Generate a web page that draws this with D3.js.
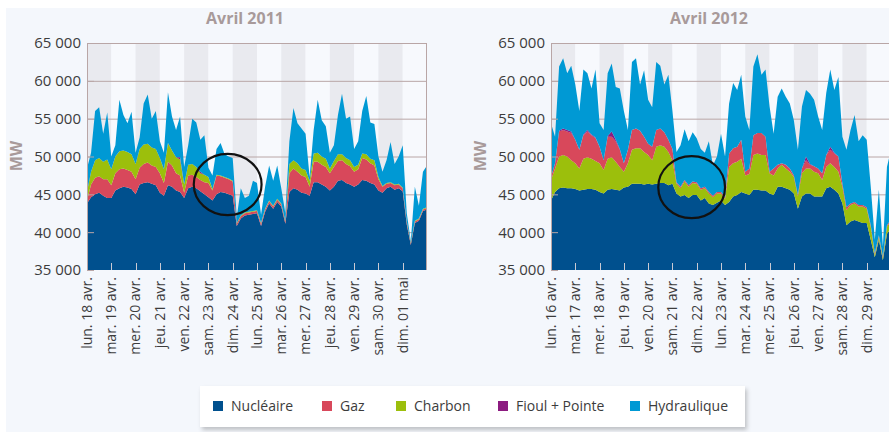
<!DOCTYPE html>
<html>
<head>
<meta charset="utf-8">
<script src="https://cdn.jsdelivr.net/npm/d3@7"></script>
<style>
  html, body { margin: 0; padding: 0; background: #fff; }
  svg { display: block; font-family: "Open Sans", sans-serif; }
</style>
</head>
<body>
<div id="chart"></div>
<script>
// samples every 4 hours, 14 days (85 points), values in MW

var series = ["Nucléaire", "Gaz", "Charbon", "Fioul + Pointe", "Hydraulique"];
var colors = ["#00508e", "#d8485b", "#9cbf0c", "#8c1b80", "#0099d4"];

var yTicks = [35000, 40000, 45000, 50000, 55000, 60000, 65000];

var days2011 = ["lun. 18 avr.", "mar. 19 avr.", "mer. 20 avr.", "jeu. 21 avr.", "ven. 22 avr.", "sam. 23 avr.", "dim. 24 avr.",
  "lun. 25 avr.", "mar. 26 avr.", "mer. 27 avr.", "jeu. 28 avr.", "ven. 29 avr.", "sam. 30 avr.", "dim. 01 mai"];
var days2012 = ["lun. 16 avr.", "mar. 17 avr.", "mer. 18 avr.", "jeu. 19 avr.", "ven. 20 avr.", "sam. 21 avr.", "dim. 22 avr.",
  "lun. 23 avr.", "mar. 24 avr.", "mer. 25 avr.", "jeu. 26 avr.", "ven. 27 avr.", "sam. 28 avr.", "dim. 29 avr."];

// highlighted weekend: [centre hour, centre MW, half width in hours, half height in MW]
var circle2011 = [139, 46300, 33.5, 4050];
var circle2012 = [139, 45950, 33, 4100];

// ---- avril 2011
var nuc2011 = [
  43800, 44600, 45000, 45200, 44800, 44500,
  44500, 45500, 45800, 46000, 45900, 45700,
  45000, 46300, 46500, 46600, 46400, 46200,
  45200, 44800, 46200, 46000, 45500, 45300,
  44500, 45800, 46000, 45800, 45400, 45000,
  44600, 44200, 45000, 45300, 45200, 45000,
  44800, 40800, 41800, 42200, 42300, 42400,
  42500, 40800, 42700, 43800, 43100, 44000,
  43400, 41100, 45300, 45800, 45600, 45200,
  45100, 44800, 46600, 46600, 46300, 46000,
  45500, 46000, 46800, 46900, 46500, 46300,
  46000, 46300, 46900, 46800, 46500, 46300,
  45500, 45200, 45800, 46000, 45600, 45800,
  45400, 41000, 38300, 41200, 41500, 42800, 43000];
var gaz2011 = [
  400, 1700, 2200, 2200, 2200, 2500,
  1700, 2300, 2500, 2400, 2300, 2300,
  2000, 2200, 2500, 2600, 2400, 2400,
  2600, 1700, 3100, 2800, 2300, 2200,
  700, 1700, 1600, 1500, 1500, 1600,
  1900, 1300, 2500, 2100, 2000, 2000,
  1900, 300, 300, 300, 300, 300,
  300, 300, 300, 300, 300, 300,
  300, 300, 2500, 2600, 2400, 2300,
  2200, 1200, 2700, 2700, 2600, 2600,
  2300, 2600, 2600, 2600, 2500, 2400,
  2000, 2000, 2900, 2800, 2600, 2500,
  1500, 800, 600, 500, 600, 500,
  400, 300, 200, 200, 200, 200, 200];
var charbon2011 = [
  1100, 1700, 2300, 2400, 2300, 2600,
  2100, 2200, 2400, 2400, 2400, 2300,
  2000, 2500, 2600, 2500, 2400, 2400,
  2000, 1800, 2500, 2000, 2100, 2100,
  1100, 1400, 1400, 1300, 900, 1000,
  800, 200, 100, 100, 100, 100,
  100, 100, 100, 100, 100, 100,
  100, 100, 100, 100, 100, 100,
  100, 100, 1200, 1100, 1100, 900,
  900, 800, 1100, 1200, 1100, 1100,
  600, 800, 900, 800, 800, 800,
  600, 600, 600, 700, 600, 700,
  300, 100, 100, 100, 100, 100,
  100, 100, 100, 100, 100, 100, 100];
var fioul2011 = [
  0, 0, 0, 0, 0, 0,
  0, 0, 0, 0, 0, 0,
  0, 0, 0, 0, 0, 0,
  0, 0, 0, 0, 0, 300,
  0, 0, 0, 0, 200, 0,
  0, 0, 0, 0, 0, 0,
  0, 0, 0, 0, 0, 0,
  0, 0, 0, 0, 0, 0,
  0, 0, 0, 0, 0, 0,
  0, 0, 0, 0, 0, 0,
  0, 0, 0, 0, 0, 0,
  0, 0, 0, 0, 0, 0,
  0, 0, 0, 0, 0, 0,
  0, 0, 0, 0, 0, 0, 0];
var hydro2011 = [
  3100, 2500, 6500, 6700, 3700, 6200,
  1700, 1500, 6800, 4700, 3800, 5600,
  1500, 1500, 5400, 6500, 3800, 5000,
  2200, 2200, 6700, 4500, 3600, 5400,
  2300, 2600, 6000, 5900, 4200, 5200,
  1200, 1800, 3400, 4300, 3000, 2900,
  3000, 800, 3600, 1900, 2100, 4000,
  3600, 1100, 2900, 4600, 3300, 4400,
  2000, 1000, 3000, 6900, 5300, 5300,
  4800, 500, 3100, 7000, 4800, 4300,
  2100, 2100, 5200, 8000, 5200, 5800,
  2400, 3100, 5600, 7700, 4800, 4800,
  2700, 1900, 3000, 5300, 2700, 3600,
  5600, 1100, 200, 4500, 1700, 4900, 5500];

// ---- avril 2012
var nuc2012 = [
  44200, 45300, 45800, 45900, 45800, 45800,
  45700, 45500, 45600, 45700, 45700, 45600,
  45300, 45100, 45600, 45700, 45600, 45500,
  45900, 46000, 46400, 46400, 46400, 46300,
  46400, 46300, 46400, 46500, 46500, 46200,
  46400, 45100, 44700, 44900, 44500, 44900,
  44900, 44200, 44500, 43800, 43600, 43900,
  44200, 43600, 44000, 44700, 44900, 45300,
  45100, 44900, 45600, 45600, 45500, 45500,
  45100, 44900, 46000, 46000, 45800, 45600,
  45100, 43100, 44700, 45100, 45100, 44700,
  44700, 44700, 45800, 46000, 45600, 45100,
  43800, 40900, 41400, 41600, 41400, 41200,
  41200, 39000, 36700, 39000, 36300, 39800, 40500];
var charbon2012 = [
  2700, 3100, 4200, 4300, 4200, 3700,
  3400, 2900, 4100, 4200, 4000, 3800,
  3800, 3100, 4100, 4200, 3700, 3100,
  2100, 3100, 4500, 4700, 4700, 4300,
  3800, 3200, 4900, 5000, 4800, 4400,
  3100, 1300, 1100, 1800, 1500, 1600,
  1500, 1400, 1300, 1300, 1000, 1200,
  900, 800, 4600, 4400, 4400, 4400,
  2400, 2800, 4600, 4800, 4700, 4700,
  2700, 2600, 2400, 2900, 2600, 2400,
  2200, 1600, 3100, 3300, 3300, 3300,
  3100, 2200, 2800, 3100, 3000, 2900,
  2200, 2000, 2200, 2200, 2000, 2200,
  1900, 1700, 300, 400, 300, 900, 1000];
var gaz2012 = [
  400, 700, 3300, 3300, 3300, 3600,
  3100, 2500, 3100, 3400, 3100, 3000,
  2200, 1300, 2900, 2700, 2700, 2300,
  1100, 1800, 2600, 2600, 2300, 2000,
  1500, 1800, 2200, 2200, 1900, 1600,
  1500, 200, 200, 200, 200, 200,
  200, 200, 200, 200, 200, 200,
  200, 200, 1800, 2000, 2000, 2500,
  500, 700, 2600, 2700, 2900, 2400,
  200, 900, 500, 200, 500, 400,
  200, 200, 600, 1100, 500, 700,
  600, 900, 1600, 1800, 1800, 2000,
  400, 400, 200, 200, 200, 200,
  200, 200, 200, 200, 200, 200, 200];
var fioul2012 = [
  0, 0, 100, 200, 200, 200,
  0, 0, 100, 200, 100, 100,
  0, 0, 100, 700, 200, 100,
  0, 0, 0, 0, 0, 0,
  0, 0, 0, 0, 0, 0,
  0, 0, 0, 0, 0, 0,
  0, 0, 0, 0, 0, 0,
  0, 0, 0, 0, 0, 0,
  0, 0, 0, 0, 0, 0,
  0, 0, 0, 0, 0, 0,
  0, 0, 0, 500, 100, 0,
  0, 0, 0, 400, 100, 0,
  0, 0, 0, 0, 0, 0,
  0, 0, 0, 0, 0, 0, 0];
var hydro2012 = [
  7100, 3500, 8500, 9300, 7500, 8700,
  7300, 5100, 8600, 7500, 6100, 9000,
  3100, 4000, 8300, 9000, 7000, 8000,
  6900, 2600, 9000, 9300, 6100, 8800,
  5800, 5200, 9000, 8300, 6300, 8600,
  5000, 4000, 5500, 6700, 5800, 6500,
  5800, 5200, 4500, 6700, 4000, 4700,
  7700, 5400, 6600, 8600, 7500, 8600,
  7300, 5100, 9100, 10400, 7700, 8900,
  8600, 4600, 9000, 9900, 9000, 8600,
  7300, 6000, 8200, 8800, 9300, 8800,
  6900, 5700, 8200, 10200, 8300, 10500,
  6200, 7600, 9700, 11500, 8400, 9200,
  8900, 5100, 1800, 6000, 1300, 7700, 9200];

var W = 889, H = 432;
var yTop = 43, yBottom = 270, plotW = 340;
var labelColor = "#a89a9a", gridColor = "#b9a6a6", textColor = "#3c3c3c";

var svg = d3.select("#chart").append("svg")
  .attr("width", W)
  .attr("height", H);

var defs = svg.append("defs");
var shadow = defs.append("filter").attr("id", "shadow")
  .attr("x", "-5%").attr("y", "-20%").attr("width", "115%").attr("height", "160%");
shadow.append("feDropShadow")
  .attr("dx", 2).attr("dy", 3).attr("stdDeviation", 2)
  .attr("flood-color", "#000").attr("flood-opacity", 0.22);

svg.append("rect").attr("x", 0).attr("y", 0).attr("width", W).attr("height", H).attr("fill", "#fff");
svg.append("rect").attr("x", 6).attr("y", 8).attr("width", W - 6).attr("height", H - 8).attr("fill", "#f4f7fc");

var fmt = d3.formatLocale({ decimal: ",", thousands: " ", grouping: [3], currency: ["", ""] }).format(",d");

function drawPanel(opts) {
  var x0 = opts.x0;
  var nbDays = opts.days.length;
  var x = d3.scaleLinear().domain([0, nbDays * 24]).range([x0, x0 + plotW]);
  var y = d3.scaleLinear().domain([35000, 65000]).range([yBottom, yTop]).clamp(true);

  var rows = opts.values[0].map(function (v, i) {
    var r = { h: i * 4 };
    series.forEach(function (s, k) { r[s] = opts.values[k][i]; });
    return r;
  });

  var g = svg.append("g");

  // day bands
  g.selectAll(".band").data(d3.range(nbDays)).enter().append("rect")
    .attr("x", function (d) { return x(d * 24); })
    .attr("y", yTop)
    .attr("width", function (d) { return x((d + 1) * 24) - x(d * 24); })
    .attr("height", yBottom - yTop)
    .attr("fill", function (d) { return d % 2 === 0 ? "#e9eaef" : "#f7f9fd"; });

  // grid
  g.selectAll(".grid").data(yTicks.slice(1)).enter().append("line")
    .attr("x1", x0).attr("x2", x0 + plotW)
    .attr("y1", function (d) { return y(d) + 0.5; })
    .attr("y2", function (d) { return y(d) + 0.5; })
    .attr("stroke", gridColor);

  // stacked areas
  var stack = d3.stack().keys(opts.order);
  var area = d3.area()
    .x(function (d) { return x(d.data.h); })
    .y0(function (d) { return y(d[0]); })
    .y1(function (d) { return y(d[1]); });
  g.selectAll(".layer").data(stack(rows)).enter().append("path")
    .attr("d", area)
    .attr("fill", function (d) { return colors[series.indexOf(d.key)]; });

  // frame
  g.append("line").attr("x1", x0 + 0.5).attr("x2", x0 + 0.5).attr("y1", yTop).attr("y2", yBottom)
    .attr("stroke", gridColor);
  g.append("line").attr("x1", x0 + plotW - 0.5).attr("x2", x0 + plotW - 0.5).attr("y1", yTop).attr("y2", yBottom)
    .attr("stroke", gridColor);

  // inner ticks
  g.selectAll(".ytick").data(yTicks).enter().append("line")
    .attr("x1", x0).attr("x2", x0 + 7)
    .attr("y1", function (d) { return y(d) + 0.5; })
    .attr("y2", function (d) { return y(d) + 0.5; })
    .attr("stroke", gridColor);
  g.selectAll(".xtick").data(d3.range(1, nbDays)).enter().append("line")
    .attr("x1", function (d) { return Math.round(x(d * 24)) + 0.5; })
    .attr("x2", function (d) { return Math.round(x(d * 24)) + 0.5; })
    .attr("y1", yBottom - 7).attr("y2", yBottom)
    .attr("stroke", "#c9cad3");

  // highlighted weekend
  var c = opts.circle;
  g.append("ellipse")
    .attr("cx", x(c[0]))
    .attr("cy", y(c[1]))
    .attr("rx", x(c[0] + c[2]) - x(c[0]))
    .attr("ry", y(c[1] - c[3]) - y(c[1]))
    .attr("fill", "none")
    .attr("stroke", "#111")
    .attr("stroke-width", 2.2);

  // y labels
  g.selectAll(".ylab").data(yTicks).enter().append("text")
    .attr("x", x0 - 6)
    .attr("y", function (d) { return y(d); })
    .attr("dy", "0.36em")
    .attr("text-anchor", "end")
    .attr("font-size", 15)
    .attr("fill", textColor)
    .text(fmt);

  // x labels
  g.selectAll(".xlab").data(opts.days).enter().append("text")
    .attr("transform", function (d, i) { return "translate(" + x(i * 24) + "," + (yBottom + 7) + ") rotate(-90)"; })
    .attr("dy", "0.35em")
    .attr("text-anchor", "end")
    .attr("font-size", 14)
    .attr("fill", textColor)
    .text(function (d) { return d; });

  // titles
  g.append("text")
    .attr("x", x0 + plotW / 2 - 12)
    .attr("y", 24)
    .attr("text-anchor", "middle")
    .attr("font-size", 16)
    .attr("font-weight", "bold")
    .attr("fill", labelColor)
    .text(opts.title);
  g.append("text")
    .attr("transform", "translate(" + (x0 - 65) + "," + (yTop + 113) + ") rotate(-90)")
    .attr("text-anchor", "middle")
    .attr("font-size", 16)
    .attr("font-weight", "bold")
    .attr("fill", labelColor)
    .text("MW");
}

drawPanel({
  x0: 87, title: "Avril 2011", days: days2011, circle: circle2011,
  order: ["Nucléaire", "Gaz", "Charbon", "Fioul + Pointe", "Hydraulique"],
  values: [nuc2011, gaz2011, charbon2011, fioul2011, hydro2011]
});
drawPanel({
  x0: 551, title: "Avril 2012", days: days2012, circle: circle2012,
  order: ["Nucléaire", "Charbon", "Gaz", "Fioul + Pointe", "Hydraulique"],
  values: [nuc2012, gaz2012, charbon2012, fioul2012, hydro2012]
});

// legend
var legendX = [213, 322, 396, 498, 630];
var legend = svg.append("g");
legend.append("rect")
  .attr("x", 200).attr("y", 386).attr("width", 545).attr("height", 41)
  .attr("fill", "#fff")
  .attr("filter", "url(#shadow)");
var items = legend.selectAll(".item").data(series).enter().append("g")
  .attr("transform", function (d, i) { return "translate(" + legendX[i] + ",401)"; });
items.append("rect").attr("width", 10).attr("height", 10)
  .attr("fill", function (d, i) { return colors[i]; });
items.append("text")
  .attr("x", 18).attr("y", 5).attr("dy", "0.35em")
  .attr("font-size", 14)
  .attr("fill", textColor)
  .text(function (d) { return d; });
</script>
</body>
</html>
